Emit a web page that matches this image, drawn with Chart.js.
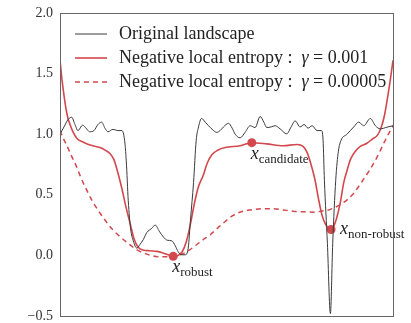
<!DOCTYPE html>
<html>
<head>
<meta charset="utf-8">
<script src="https://cdn.jsdelivr.net/npm/chart.js@4.4.1/dist/chart.umd.min.js"></script>
<style>
  html, body { margin: 0; padding: 0; background: #fff; }
</style>
</head>
<body>
<canvas id="landscapeChart" width="411" height="323"></canvas>
<script>
// landscape data (x in [0, 10])
const landscapeX = [0.00,0.12,0.24,0.35,0.45,0.54,0.68,0.78,0.89,1.02,1.14,1.25,1.35,1.44,1.59,1.74,1.86,1.94,1.99,2.05,2.12,2.20,2.31,2.40,2.50,2.61,2.74,2.86,2.98,3.11,3.22,3.36,3.46,3.55,3.64,3.76,3.85,3.92,4.01,4.09,4.16,4.25,4.36,4.46,4.57,4.71,4.81,4.91,5.06,5.17,5.26,5.41,5.56,5.71,5.86,6.01,6.12,6.21,6.34,6.46,6.61,6.81,6.94,7.06,7.21,7.33,7.45,7.57,7.72,7.85,7.90,7.94,8.03,8.12,8.19,8.28,8.36,8.44,8.62,8.82,8.97,9.12,9.32,9.47,9.62,9.82,10.00];
const landscapeY = [1.00,1.06,1.12,1.14,1.08,1.03,1.075,1.05,1.02,1.03,1.08,1.10,1.05,1.02,1.04,1.03,1.03,0.95,0.78,0.45,0.22,0.12,0.06,0.09,0.13,0.19,0.22,0.25,0.20,0.15,0.125,0.12,0.08,0.03,0.005,0.005,0.06,0.30,0.60,0.95,1.06,1.13,1.10,1.07,1.04,1.015,1.03,1.06,1.09,1.05,1.00,0.97,1.016,1.07,1.055,1.146,1.10,1.055,1.06,1.07,1.044,1.003,1.06,1.11,1.06,1.08,1.05,1.07,1.03,1.03,0.95,0.62,0.10,-0.48,0.10,0.62,0.86,0.95,1.00,1.06,1.10,1.07,1.13,1.07,1.044,1.058,1.07];

const entropyX = [0.00,0.06,0.12,0.18,0.24,0.30,0.39,0.51,0.69,0.90,1.20,1.38,1.50,1.62,1.74,1.86,1.98,2.10,2.22,2.34,2.49,2.70,2.91,3.09,3.25,3.40,3.55,3.67,3.79,3.91,4.03,4.15,4.30,4.42,4.56,4.75,4.96,5.41,5.76,6.21,6.70,7.12,7.30,7.42,7.56,7.66,7.76,7.87,7.96,8.06,8.14,8.21,8.30,8.42,8.52,8.62,8.72,8.87,9.02,9.22,9.38,9.53,9.65,9.74,9.83,9.92,10.00];
const entropyY = [1.61,1.45,1.32,1.21,1.13,1.08,1.02,0.965,0.935,0.91,0.89,0.865,0.84,0.79,0.68,0.55,0.40,0.27,0.14,0.07,0.045,0.038,0.033,0.02,0.005,-0.008,0.0,0.03,0.11,0.25,0.42,0.56,0.66,0.76,0.83,0.87,0.89,0.905,0.93,0.92,0.905,0.915,0.90,0.85,0.73,0.62,0.47,0.33,0.265,0.225,0.214,0.235,0.30,0.44,0.60,0.70,0.79,0.86,0.90,0.925,0.96,0.99,1.06,1.15,1.29,1.45,1.61];

const smoothX = [0.00,0.09,0.20,0.33,0.50,0.63,0.80,0.99,1.20,1.41,1.59,1.80,2.00,2.31,2.56,2.80,3.07,3.31,3.55,3.81,4.06,4.30,4.51,4.71,4.96,5.20,5.44,5.71,6.07,6.40,6.70,7.00,7.30,7.61,7.85,8.12,8.42,8.63,8.84,9.07,9.29,9.52,9.68,9.82,9.92,10.00];
const smoothY = [1.03,0.97,0.91,0.83,0.73,0.64,0.54,0.44,0.35,0.27,0.21,0.155,0.11,0.045,0.015,-0.005,-0.012,-0.012,0.0,0.03,0.08,0.13,0.17,0.22,0.28,0.33,0.36,0.375,0.385,0.385,0.375,0.365,0.36,0.357,0.365,0.38,0.42,0.46,0.52,0.61,0.70,0.81,0.90,0.98,1.03,1.07];

const markerNames = ['robust', 'candidate', 'non-robust'];
const markerX = [3.40, 5.76, 8.14];
const markerY = [-0.008, 0.93, 0.214];

const seriesLabels = ['Original landscape', 'Negative local entropy :  ', 'Negative local entropy :  '];
const gammaLabels = ['', '0.001', '0.00005'];

const yTicks = [-0.5, 0.0, 0.5, 1.0, 1.5, 2.0];

const RED = '#d2484d';
const SERIF = '"Liberation Serif", "DejaVu Serif", serif';

const toPoints = (xs, ys) => xs.map((x, i) => ({ x, y: ys[i] }));

// legend drawn inside the plot, top left
const legendPlugin = {
  id: 'innerLegend',
  afterDraw(chart) {
    const { ctx, chartArea } = chart;
    ctx.save();
    for (let i = 0; i < 3; i++) {
      const ds = chart.data.datasets[i];
      const y = chartArea.top + 21 + i * 24;
      const x0 = chartArea.left + 15;
      ctx.strokeStyle = ds.borderColor;
      ctx.lineWidth = ds.borderWidth;
      ctx.setLineDash(ds.borderDash || []);
      ctx.beginPath();
      ctx.moveTo(x0, y);
      ctx.lineTo(x0 + 32, y);
      ctx.stroke();
      ctx.setLineDash([]);
      ctx.fillStyle = '#222';
      ctx.textBaseline = 'middle';
      ctx.font = '18px ' + SERIF;
      let tx = x0 + 44;
      ctx.fillText(seriesLabels[i], tx, y);
      if (gammaLabels[i]) {
        tx += ctx.measureText(seriesLabels[i]).width;
        ctx.font = 'italic 18px ' + SERIF;
        ctx.fillText('\u03b3', tx, y);
        tx += ctx.measureText('\u03b3').width;
        ctx.font = '18px ' + SERIF;
        ctx.fillText(' = ' + gammaLabels[i], tx, y);
      }
    }
    ctx.restore();
  }
};

// x_name labels next to the marked points
const markerLabels = {
  id: 'markerLabels',
  afterDatasetsDraw(chart) {
    const { ctx, scales } = chart;
    ctx.save();
    ctx.fillStyle = '#222';
    ctx.textBaseline = 'alphabetic';
    markerNames.forEach((name, i) => {
      const px = scales.x.getPixelForValue(markerX[i]);
      const py = scales.y.getPixelForValue(markerY[i]);
      const right = name === 'non-robust';
      const lx = right ? px + 9 : px - 1;
      const ly = right ? py + 5 : py + 16;
      ctx.font = 'italic 18px ' + SERIF;
      ctx.fillText('x', lx, ly);
      const w = ctx.measureText('x').width;
      ctx.font = '13px ' + SERIF;
      ctx.fillText(name, lx + w, ly + 4);
    });
    ctx.restore();
  }
};

const framePlugin = {
  id: 'frame',
  afterDraw(chart) {
    const { ctx, chartArea } = chart;
    ctx.save();
    ctx.strokeStyle = '#666';
    ctx.lineWidth = 1;
    ctx.strokeRect(Math.round(chartArea.left) + 0.5, Math.round(chartArea.top) + 0.5,
      Math.round(chartArea.width), Math.round(chartArea.height));
    ctx.restore();
  }
};

new Chart(document.getElementById('landscapeChart'), {
  type: 'line',
  data: {
    datasets: [{
      label: seriesLabels[0],
      data: toPoints(landscapeX, landscapeY),
      borderColor: '#3a3a3a',
      borderWidth: 1,
      cubicInterpolationMode: 'monotone',
      pointRadius: 0
    }, {
      label: seriesLabels[1] + 'γ = ' + gammaLabels[1],
      data: toPoints(entropyX, entropyY),
      borderColor: RED,
      borderWidth: 1.6,
      cubicInterpolationMode: 'monotone',
      pointRadius: 0
    }, {
      label: seriesLabels[2] + 'γ = ' + gammaLabels[2],
      data: toPoints(smoothX, smoothY),
      borderColor: RED,
      borderWidth: 1.5,
      borderDash: [5, 4],
      cubicInterpolationMode: 'monotone',
      pointRadius: 0
    }, {
      label: 'markers',
      data: toPoints(markerX, markerY),
      showLine: false,
      pointRadius: 4.5,
      pointBackgroundColor: RED,
      pointBorderColor: RED,
      pointBorderWidth: 0
    }]
  },
  options: {
    responsive: false,
    animation: false,
    layout: { padding: { top: 13, right: 18, bottom: 7, left: 0 } },
    plugins: { legend: { display: false }, tooltip: { enabled: false } },
    scales: {
      x: { type: 'linear', min: 0, max: 10, display: false },
      y: {
        min: -0.5, max: 2.0,
        afterFit: s => { s.width = 60; s.paddingTop = 0; s.paddingBottom = 0; },
        afterBuildTicks: s => { s.ticks = yTicks.map(v => ({ value: v })); },
        grid: { display: false, drawTicks: false },
        border: { display: false },
        ticks: {
          padding: 7,
          color: '#333',
          font: { family: SERIF, size: 14 },
          callback: v => (v < 0 ? '\u2212' : '') + Math.abs(v).toFixed(1)
        }
      }
    }
  },
  plugins: [legendPlugin, markerLabels, framePlugin]
});
</script>
</body>
</html>
